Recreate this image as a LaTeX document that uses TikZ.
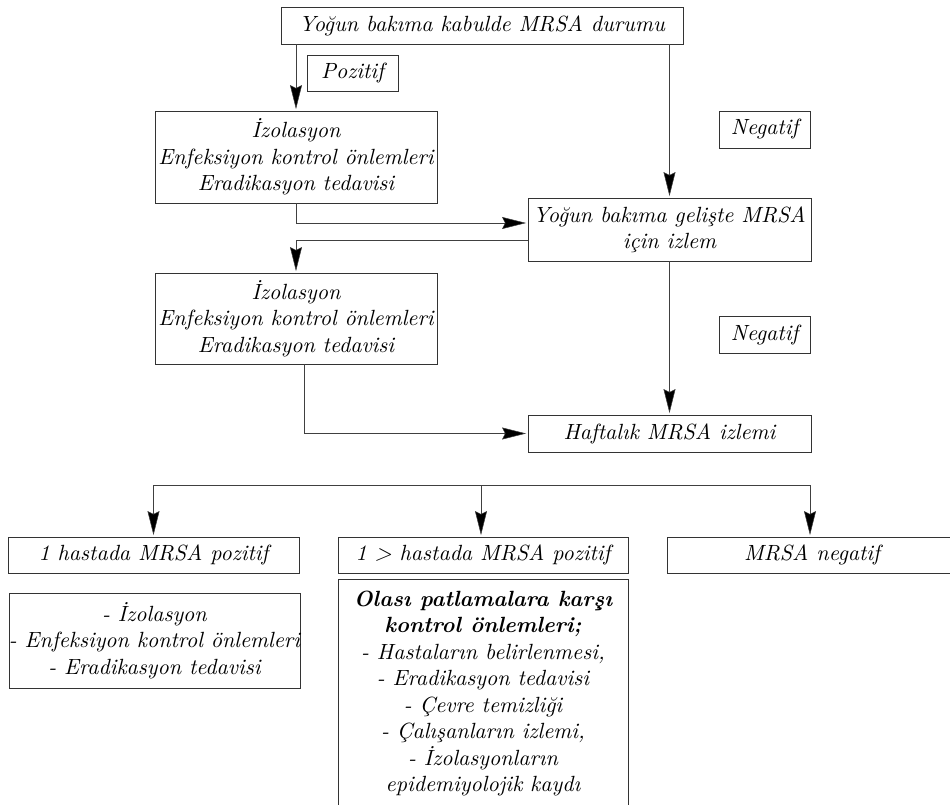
\documentclass[tikz,border=0pt]{standalone}
\usepackage{fontspec}
\setmainfont{lmroman10-regular.otf}[ItalicFont=lmroman10-italic.otf,BoldFont=lmroman10-bold.otf,BoldItalicFont=lmroman10-bolditalic.otf]
\usetikzlibrary{arrows.meta}
\begin{document}
\begin{tikzpicture}[x=1pt,y=-1pt,
  txt/.style={font=\fontsize{22}{26.5}\selectfont\itshape},
  box/.style={txt,draw=black!80,line width=0.9pt,inner sep=0pt,align=center},
  conn/.style={draw=black!75,line width=0.9pt},
  arr/.style={conn,-{Stealth[length=24pt,width=12pt,inset=3pt,fill=black,line width=0.5pt]},shorten >=1.5pt}]
\clip (0,0) rectangle (950,805);
\fill[white] (0,0) rectangle (950,805);
% nodes
\node[box,minimum width=402pt,minimum height=37pt] (top) at (482,25.5) {Yoğun bakıma kabulde MRSA durumu};
\node[box,minimum width=91pt,minimum height=36pt] (poz) at (352.5,73) {Pozitif};
\node[box,minimum width=282pt,minimum height=92pt] (b2) at (296,157) {İzolasyon\\Enfeksiyon kontrol önlemleri\\Eradikasyon tedavisi};
\node[box,minimum width=91pt,minimum height=37pt] (neg1) at (764.5,129.5) {Negatif};
\node[box,minimum width=283pt,minimum height=63pt] (b3) at (669.5,229.5) {Yoğun bakıma gelişte MRSA\\için izlem};
\node[box,minimum width=282pt,minimum height=91pt] (b4) at (296,318.5) {İzolasyon\\Enfeksiyon kontrol önlemleri\\Eradikasyon tedavisi};
\node[box,minimum width=91pt,minimum height=37pt] (neg2) at (764.5,334.5) {Negatif};
\node[box,minimum width=283pt,minimum height=37pt] (b5) at (669.5,433.5) {Haftalık MRSA izlemi};
\node[box,minimum width=291pt,minimum height=36pt] (ba) at (153.5,555) {1 hastada MRSA pozitif};
\node[box,minimum width=290pt,minimum height=36pt] (bb) at (483,555) {1 > hastada MRSA pozitif};
\node[box,minimum width=290pt,minimum height=36pt] (bc) at (812,555) {MRSA negatif};
\node[box,minimum width=291pt,minimum height=95pt] (bd) at (154.5,640.5) {- İzolasyon\\- Enfeksiyon kontrol önlemleri\\- Eradikasyon tedavisi};
\node[box,minimum width=290pt,minimum height=229pt] (be) at (483,693.5) {\textbf{Olası patlamalara karşı}\\\textbf{kontrol önlemleri;}\\- Hastaların belirlenmesi,\\- Eradikasyon tedavisi\\- Çevre temizliği\\- Çalışanların izlemi,\\- İzolasyonların\\epidemiyolojik kaydı};
% connectors
\draw[arr] (top.south -| b2.north) -- (b2.north);
\draw[arr] (top.south -| b3.north) -- (b3.north);
\draw[arr] (b2.south) |- ([yshift=6.5pt]b3.west);
\draw[arr] ([yshift=-10.5pt]b3.west) -| (b4.north);
\draw[arr] (b3.south) -- (b5.north);
\draw[arr] ([xshift=8pt]b4.south) |- (b5.west);
\coordinate (bl) at (153.5,485);
\coordinate (bm) at (481,485);
\coordinate (br) at (810,485);
\draw[conn] (bl) -- (br);
\draw[arr] (bl) -- (ba.north);
\draw[arr] (bm) -- (bm |- bb.north);
\draw[arr] (br) -- (br |- bc.north);
\end{tikzpicture}
\end{document}
